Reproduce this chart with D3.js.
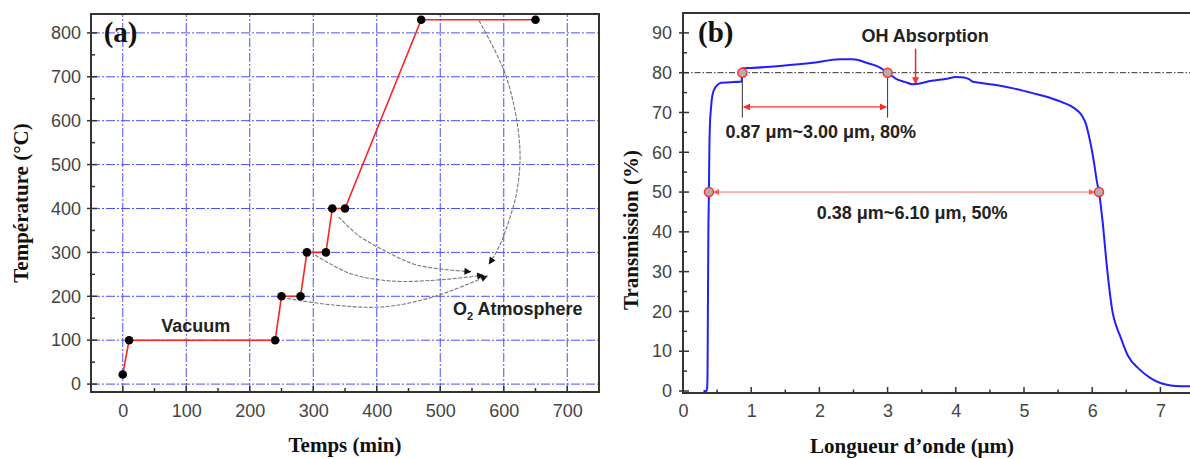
<!DOCTYPE html>
<html>
<head>
<meta charset="utf-8">
<script src="https://cdn.jsdelivr.net/npm/d3@7/dist/d3.min.js"></script>
<style>
  html, body { margin: 0; padding: 0; background: #fff; }
  svg { display: block; }
</style>
</head>
<body>
<svg id="chart" width="1190" height="459"></svg>
<script>
// ---------- Panel (a) data ----------
const timeMin = [0, 10, 240, 250, 280, 290, 320, 330, 350, 470, 650];
const tempC   = [22, 100, 100, 200, 200, 300, 300, 400, 400, 830, 830];
const timeTicks = [0, 100, 200, 300, 400, 500, 600, 700];
const tempTicks = [0, 100, 200, 300, 400, 500, 600, 700, 800];

// O2 atmosphere curved arrows (data coordinates: [time, temperature])
const arrowA = [[340, 381], [370, 340], [411, 305], [464, 271], [548, 256]];
const arrowB = [[303, 294], [358, 252], [421, 235], [495, 237], [568, 248]];
const arrowC = [[259, 195], [332, 180], [411, 176], [490, 199], [574, 246]];
const arrowD = [[561, 828], [604, 700], [625, 546], [621, 442], [603, 350], [590, 305], [577, 274]];

// ---------- Panel (b) data ----------
const wavelength = [0.30, 0.345, 0.355, 0.36, 0.365, 0.372, 0.38, 0.386, 0.395, 0.41, 0.42, 0.45, 0.51, 0.56, 0.70, 0.86,
  0.87, 1.0, 1.42, 1.91, 2.30, 2.49, 2.69, 2.89, 3.00, 3.13, 3.25, 3.37, 3.45, 3.62, 3.87, 4.0, 4.12, 4.2, 4.25, 4.35,
  4.59, 4.86, 5.14, 5.41, 5.6, 5.69, 5.78, 5.85, 5.91, 5.96, 5.99, 6.03, 6.07, 6.10, 6.15, 6.22, 6.30, 6.36, 6.41,
  6.52, 6.69, 6.85, 7.0, 7.15, 7.3, 7.5];
const transmission = [0, 0, 1, 5, 20, 40, 50, 60, 67, 71, 73, 75.5, 77, 77.5, 77.6, 77.8,
  81.1, 81.2, 81.7, 82.5, 83.4, 83.4, 82.5, 81.3, 80, 78.4, 77.7, 77.1, 77.2, 77.9, 78.5, 78.9, 78.8, 78.3, 77.7, 77.5,
  76.9, 76, 74.8, 73.5, 72.3, 71.6, 70.5, 69.2, 67, 63.5, 61, 57, 52.5, 50, 43, 30.5, 19.7, 16, 13.8,
  9, 5.5, 3.3, 2, 1.4, 1.2, 1.2];
const waveTicks = [0, 1, 2, 3, 4, 5, 6, 7];
const transTicks = [0, 10, 20, 30, 40, 50, 60, 70, 80, 90];
const markerWave = [0.87, 3.00, 0.38, 6.10];
const markerTrans = [80, 80, 50, 50];

const svg = d3.select("#chart");
const tickFont = "'Liberation Sans', Arial, sans-serif";
const serif = "'Liberation Serif', 'Times New Roman', serif";

// defs: arrowheads
const defs = svg.append("defs");
function mkMarker(id, color, w, h) {
  defs.append("marker").attr("id", id)
    .attr("viewBox", "0 0 10 10").attr("refX", 9).attr("refY", 5)
    .attr("markerUnits", "userSpaceOnUse")
    .attr("markerWidth", w).attr("markerHeight", h)
    .attr("orient", "auto-start-reverse")
    .append("path").attr("d", "M0,0 L10,5 L0,10 Z").attr("fill", color);
}
mkMarker("blackHead", "#111", 10, 7);
mkMarker("redHead", "#ff2a2a", 11, 7);
mkMarker("pinkHead", "#ff5a5a", 8, 6);

// ================= Panel (a) =================
const xA = d3.scaleLinear().domain([-50, 750]).range([91, 599]);
const yA = d3.scaleLinear().domain([-18, 843]).range([392, 14]);
const gA = svg.append("g");

// grid
gA.append("g").selectAll("line").data(timeTicks).join("line")
  .attr("x1", d => xA(d)).attr("x2", d => xA(d))
  .attr("y1", yA.range()[0]).attr("y2", yA.range()[1])
  .attr("stroke", "#4d4dff").attr("stroke-width", 1).attr("stroke-dasharray", "9,2,2,2");
gA.append("g").selectAll("line").data(tempTicks).join("line")
  .attr("y1", d => yA(d)).attr("y2", d => yA(d))
  .attr("x1", xA.range()[0]).attr("x2", xA.range()[1])
  .attr("stroke", "#4d4dff").attr("stroke-width", 1).attr("stroke-dasharray", "9,2,2,2");

// ticks (inward)
const tickColor = "#333";
const xAmin = d3.range(-50, 751, 50).filter(v => v % 100 !== 0);
const yAmin = d3.range(50, 843, 100);
gA.append("g").selectAll("line").data(timeTicks).join("line")
  .attr("x1", d => xA(d)).attr("x2", d => xA(d)).attr("y1", 392).attr("y2", 386)
  .attr("stroke", tickColor).attr("stroke-width", 1.5);
gA.append("g").selectAll("line").data(xAmin).join("line")
  .attr("x1", d => xA(d)).attr("x2", d => xA(d)).attr("y1", 392).attr("y2", 388)
  .attr("stroke", tickColor).attr("stroke-width", 1.5);
gA.append("g").selectAll("line").data(tempTicks).join("line")
  .attr("y1", d => yA(d)).attr("y2", d => yA(d)).attr("x1", 87).attr("x2", 97)
  .attr("stroke", tickColor).attr("stroke-width", 1.5);
gA.append("g").selectAll("line").data(yAmin).join("line")
  .attr("y1", d => yA(d)).attr("y2", d => yA(d)).attr("x1", 91).attr("x2", 95)
  .attr("stroke", tickColor).attr("stroke-width", 1.5);

// tick labels via d3 axes
const axAx = gA.append("g").attr("transform", "translate(0,392)")
  .call(d3.axisBottom(xA).tickValues(timeTicks).tickSize(0).tickPadding(12));
const axAy = gA.append("g").attr("transform", "translate(91,0)")
  .call(d3.axisLeft(yA).tickValues(tempTicks).tickSize(0).tickPadding(10));
[axAx, axAy].forEach(a => {
  a.select(".domain").remove();
  a.selectAll("text").attr("font-family", tickFont).attr("font-size", 18).attr("fill", "#444");
});
axAx.selectAll("text").attr("dy", "0.72em");

// frame
gA.append("rect").attr("x", 91).attr("y", 14).attr("width", 508).attr("height", 378)
  .attr("fill", "none").attr("stroke", "#333").attr("stroke-width", 2);

// curved O2 arrows
const arrowLine = d3.line().x(d => xA(d[0])).y(d => yA(d[1])).curve(d3.curveCatmullRom.alpha(0.5));
[arrowA, arrowB, arrowC, arrowD].forEach(pts => {
  gA.append("path").attr("d", arrowLine(pts))
    .attr("fill", "none").attr("stroke", "#777").attr("stroke-width", 1.1)
    .attr("stroke-dasharray", "4,1.5")
    .attr("marker-end", "url(#blackHead)");
});

// red profile
const profile = timeMin.map((t, i) => [t, tempC[i]]);
gA.append("path").attr("d", d3.line().x(d => xA(d[0])).y(d => yA(d[1]))(profile))
  .attr("fill", "none").attr("stroke", "#ff2020").attr("stroke-width", 1.6);
gA.append("g").selectAll("circle").data(profile).join("circle")
  .attr("cx", d => xA(d[0])).attr("cy", d => yA(d[1])).attr("r", 4.3).attr("fill", "#000");

// texts
gA.append("text").attr("x", xA(-30)).attr("y", yA(800) + 9)
  .attr("font-family", serif).attr("font-weight", "bold").attr("font-size", 29).attr("fill", "#111").text("(a)");
gA.append("text").attr("x", xA(115)).attr("y", yA(133) + 6).attr("text-anchor", "middle")
  .attr("font-family", tickFont).attr("font-weight", "bold").attr("font-size", 18).attr("fill", "#222").text("Vacuum");
const o2 = gA.append("text").attr("x", xA(520)).attr("y", yA(170) + 6)
  .attr("font-family", tickFont).attr("font-weight", "bold").attr("font-size", 18).attr("fill", "#222");
o2.append("tspan").text("O");
o2.append("tspan").attr("font-size", 11).attr("dy", 5).text("2");
o2.append("tspan").attr("dy", -5).text(" Atmosphere");

gA.append("text").attr("x", 345).attr("y", 452).attr("text-anchor", "middle")
  .attr("font-family", serif).attr("font-weight", "bold").attr("font-size", 21).attr("fill", "#111").text("Temps (min)");
gA.append("text").attr("transform", "translate(28,203) rotate(-90)").attr("text-anchor", "middle")
  .attr("font-family", serif).attr("font-weight", "bold").attr("font-size", 21).attr("fill", "#111").text("Température (°C)");

// ================= Panel (b) =================
const xB = d3.scaleLinear().domain([0, 7.5]).range([683, 683 + 7.5 * 68.2]);
const yB = d3.scaleLinear().domain([-0.5, 95]).range([393, 13]);
const gB = svg.append("g");

// dashed 80% reference line
gB.append("line").attr("x1", xB(0)).attr("x2", xB(7.5)).attr("y1", yB(80)).attr("y2", yB(80))
  .attr("stroke", "#333").attr("stroke-width", 1).attr("stroke-dasharray", "6,2,1.5,2");

// ticks
const xBmin = d3.range(0.5, 7.5, 1);
const yBmin = d3.range(5, 95, 10);
gB.append("g").selectAll("line").data(waveTicks).join("line")
  .attr("x1", d => xB(d)).attr("x2", d => xB(d)).attr("y1", 393).attr("y2", 387)
  .attr("stroke", tickColor).attr("stroke-width", 1.5);
gB.append("g").selectAll("line").data(xBmin).join("line")
  .attr("x1", d => xB(d)).attr("x2", d => xB(d)).attr("y1", 393).attr("y2", 389.5)
  .attr("stroke", tickColor).attr("stroke-width", 1.5);
gB.append("g").selectAll("line").data(transTicks).join("line")
  .attr("y1", d => yB(d)).attr("y2", d => yB(d)).attr("x1", 679).attr("x2", 689)
  .attr("stroke", tickColor).attr("stroke-width", 1.5);
gB.append("g").selectAll("line").data(yBmin).join("line")
  .attr("y1", d => yB(d)).attr("y2", d => yB(d)).attr("x1", 683).attr("x2", 687)
  .attr("stroke", tickColor).attr("stroke-width", 1.5);

const axBx = gB.append("g").attr("transform", "translate(0,393)")
  .call(d3.axisBottom(xB).tickValues(waveTicks).tickFormat(d3.format("d")).tickSize(0).tickPadding(11));
const axBy = gB.append("g").attr("transform", "translate(683,0)")
  .call(d3.axisLeft(yB).tickValues(transTicks).tickSize(0).tickPadding(11));
[axBx, axBy].forEach(a => {
  a.select(".domain").remove();
  a.selectAll("text").attr("font-family", tickFont).attr("font-size", 18).attr("fill", "#444");
});
axBx.selectAll("text").attr("dy", "0.72em");

// frame (right side lies beyond the picture)
gB.append("rect").attr("x", 683).attr("y", 13).attr("width", xB(7.5) - 683).attr("height", 380)
  .attr("fill", "none").attr("stroke", "#333").attr("stroke-width", 2);

// guides for 80% band
[0.87, 3.00].forEach(w => {
  gB.append("line").attr("x1", xB(w)).attr("x2", xB(w)).attr("y1", yB(80)).attr("y2", yB(68.7))
    .attr("stroke", "#333").attr("stroke-width", 1);
});
gB.append("line").attr("x1", xB(0.89)).attr("x2", xB(2.98)).attr("y1", yB(71.4)).attr("y2", yB(71.4))
  .attr("stroke", "#ff3030").attr("stroke-width", 1.2)
  .attr("marker-start", "url(#redHead)").attr("marker-end", "url(#redHead)");
// 50% band
gB.append("line").attr("x1", xB(0.45)).attr("x2", xB(6.03)).attr("y1", yB(50)).attr("y2", yB(50))
  .attr("stroke", "#ff6a6a").attr("stroke-width", 1)
  .attr("marker-start", "url(#pinkHead)").attr("marker-end", "url(#pinkHead)");
// OH absorption arrow
gB.append("line").attr("x1", xB(3.41)).attr("x2", xB(3.41)).attr("y1", yB(86)).attr("y2", yB(77.3))
  .attr("stroke", "#ff2020").attr("stroke-width", 1.5).attr("marker-end", "url(#redHead)");

// transmission curve
const spec = wavelength.map((w, i) => [w, transmission[i]]);
gB.append("path").attr("d", d3.line().x(d => xB(d[0])).y(d => yB(d[1])).curve(d3.curveMonotoneX)(spec))
  .attr("fill", "none").attr("stroke", "#2020ff").attr("stroke-width", 2);

// markers
gB.append("g").selectAll("circle").data(markerWave.map((w, i) => [w, markerTrans[i]])).join("circle")
  .attr("cx", d => xB(d[0])).attr("cy", d => yB(d[1])).attr("r", 4.5)
  .attr("fill", "#b0b0b0").attr("stroke", "#ff3030").attr("stroke-width", 1.5);

// texts
gB.append("text").attr("x", xB(0.22)).attr("y", yB(90) + 9)
  .attr("font-family", serif).attr("font-weight", "bold").attr("font-size", 29).attr("fill", "#111").text("(b)");
gB.append("text").attr("x", xB(3.55)).attr("y", yB(89.3) + 6).attr("text-anchor", "middle")
  .attr("font-family", tickFont).attr("font-weight", "bold").attr("font-size", 18).attr("fill", "#222").text("OH Absorption");
gB.append("text").attr("x", xB(2.02)).attr("y", yB(63.7)).attr("text-anchor", "middle")
  .attr("font-family", tickFont).attr("font-weight", "bold").attr("font-size", 18).attr("fill", "#222").text("0.87 μm~3.00 μm, 80%");
gB.append("text").attr("x", xB(3.36)).attr("y", yB(43.3)).attr("text-anchor", "middle")
  .attr("font-family", tickFont).attr("font-weight", "bold").attr("font-size", 18).attr("fill", "#222").text("0.38 μm~6.10 μm, 50%");

gB.append("text").attr("x", 912).attr("y", 453).attr("text-anchor", "middle")
  .attr("font-family", serif).attr("font-weight", "bold").attr("font-size", 21).attr("fill", "#111").text("Longueur d’onde (μm)");
gB.append("text").attr("transform", "translate(638,230) rotate(-90)").attr("text-anchor", "middle")
  .attr("font-family", serif).attr("font-weight", "bold").attr("font-size", 21).attr("fill", "#111").text("Transmission (%)");
</script>
</body>
</html>
